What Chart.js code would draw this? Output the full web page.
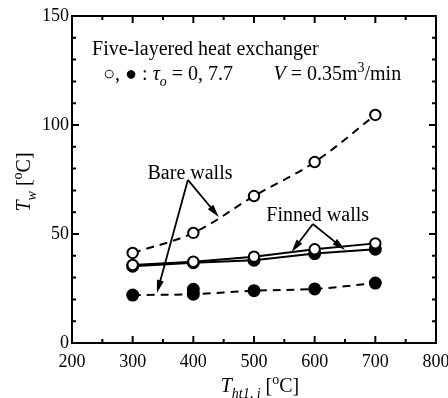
<!DOCTYPE html>
<html>
<head>
<meta charset="utf-8">
<script src="https://cdn.jsdelivr.net/npm/chart.js@4.4.1/dist/chart.umd.min.js"></script>
<style>
html, body { margin: 0; padding: 0; background: #fff; }
</style>
</head>
<body>
<canvas id="heatChart" width="448" height="398"></canvas>
<script>
// tick labels
const xTicks = [200, 300, 400, 500, 600, 700, 800];
const yTicks = [0, 50, 100, 150];

// inlet temperature T_ht1,i [oC]
const inletTemps = [300, 400, 500, 600, 700];

// wall temperature T_w [oC]
const bareOpen = [41.3, 50.5, 67.4, 83.0, 104.6];      // bare walls, tau_o = 0
const bareFilled = [22.0, 22.4, 24.0, 24.8, 27.5];     // bare walls, tau_o = 7.7
const bareFilledExtra = [24.6];                         // second run at 400
const finnedOpen = [35.8, 37.3, 39.6, 43.0, 45.7];     // finned walls, tau_o = 0
const finnedFilled = [35.2, 36.8, 38.0, 41.0, 43.0];   // finned walls, tau_o = 7.7

const FONT = "'Liberation Serif', 'Times New Roman', serif";
const FS = 20;
const TICK_FS = 18;

function pts(values, xs) {
    return values.map((v, i) => ({ x: (xs || inletTemps)[i], y: v }));
}

function style(filled, dashed) {
    return {
        borderColor: "#000",
        borderWidth: 2,
        borderDash: dashed ? [8, 6] : [],
        tension: dashed ? 0.35 : 0,
        pointRadius: filled ? 5.5 : 5.2,
        pointBorderWidth: 2,
        pointBorderColor: "#000",
        pointBackgroundColor: filled ? "#000" : "#fff",
        fill: false
    };
}

// draw a string made of parts: [text, mode] mode = "", "i", "sub", "isub", "sup"
function rich(ctx, x, y, parts, size, align) {
    const measure = p => {
        const small = p[1] === "sub" || p[1] === "isub" || p[1] === "sup";
        const italic = p[1] === "i" || p[1] === "isub";
        ctx.font = (italic ? "italic " : "") + (small ? size * 0.7 : size) + "px " + FONT;
        return ctx.measureText(p[0]).width;
    };
    const total = parts.reduce((s, p) => s + measure(p), 0);
    let cx = align === "center" ? x - total / 2 : x;
    ctx.textAlign = "left";
    ctx.textBaseline = "alphabetic";
    parts.forEach(p => {
        const w = measure(p);
        let dy = 0;
        if (p[1] === "sub" || p[1] === "isub") dy = size * 0.3;
        if (p[1] === "sup") dy = -size * 0.42;
        ctx.fillText(p[0], cx, y + dy);
        cx += w;
    });
}

function arrow(ctx, x0, y0, x1, y1) {
    const a = Math.atan2(y1 - y0, x1 - x0);
    const len = 13, half = 3.5;
    ctx.beginPath();
    ctx.moveTo(x0, y0);
    ctx.lineTo(x1 - Math.cos(a) * len * 0.8, y1 - Math.sin(a) * len * 0.8);
    ctx.stroke();
    ctx.beginPath();
    ctx.moveTo(x1, y1);
    ctx.lineTo(x1 - Math.cos(a) * len - Math.sin(a) * half, y1 - Math.sin(a) * len + Math.cos(a) * half);
    ctx.lineTo(x1 - Math.cos(a) * len + Math.sin(a) * half, y1 - Math.sin(a) * len - Math.cos(a) * half);
    ctx.closePath();
    ctx.fill();
}

const framePlugin = {
    id: "frame",
    afterDraw(chart) {
        const ctx = chart.ctx;
        const { left, right, top, bottom } = chart.chartArea;
        const sx = chart.scales.x, sy = chart.scales.y;
        const X = v => sx.getPixelForValue(v), Y = v => sy.getPixelForValue(v);
        ctx.save();
        ctx.strokeStyle = "#000";
        ctx.fillStyle = "#000";

        // box
        ctx.lineWidth = 2;
        ctx.strokeRect(left, top, right - left, bottom - top);

        // inward ticks on all sides
        ctx.beginPath();
        for (let v = 200; v <= 800; v += 50) {
            const l = v % 100 === 0 ? 7 : 4;
            ctx.moveTo(X(v), bottom); ctx.lineTo(X(v), bottom - l);
            ctx.moveTo(X(v), top); ctx.lineTo(X(v), top + l);
        }
        for (let v = 0; v <= 150; v += 10) {
            const l = v % 50 === 0 ? 7 : 4;
            ctx.moveTo(left, Y(v)); ctx.lineTo(left + l, Y(v));
            ctx.moveTo(right, Y(v)); ctx.lineTo(right - l, Y(v));
        }
        ctx.stroke();

        // tick labels
        ctx.font = TICK_FS + "px " + FONT;
        ctx.textAlign = "center";
        ctx.textBaseline = "alphabetic";
        xTicks.forEach(v => ctx.fillText(String(v), X(v), bottom + 24));
        ctx.textAlign = "right";
        ctx.textBaseline = "middle";
        yTicks.forEach(v => ctx.fillText(String(v), left - 3, Y(v)));

        // axis titles
        rich(ctx, (left + right) / 2 + 6, 392, [["T", "i"], ["ht1, i", "isub"], [" [", ""], ["o", "sup"], ["C]", ""]], FS, "center");
        ctx.save();
        ctx.translate(30, 182);
        ctx.rotate(-Math.PI / 2);
        rich(ctx, 0, 0, [["T", "i"], ["w", "isub"], [" [", ""], ["o", "sup"], ["C]", ""]], FS, "center");
        ctx.restore();

        // header
        rich(ctx, X(233), Y(135.3) + 7, [["Five-layered heat exchanger", ""]], FS, "left");
        rich(ctx, X(251), Y(123.8) + 7, [["○, ● : ", ""], ["τ", "i"], ["o", "isub"], [" = 0, 7.7", ""]], FS, "left");
        rich(ctx, X(532), Y(123.8) + 7, [["V", "i"], [" = 0.35m", ""], ["3", "sup"], ["/min", ""]], FS, "left");

        // annotations
        rich(ctx, X(394.5), Y(78.4) + 7, [["Bare walls", ""]], FS, "center");
        rich(ctx, X(605), Y(59.2) + 7, [["Finned walls", ""]], FS, "center");
        ctx.lineWidth = 1.8;
        arrow(ctx, X(391), Y(74.8), X(442), Y(57.8));
        arrow(ctx, X(391), Y(74.8), X(340), Y(22.9));
        arrow(ctx, X(597), Y(54.6), X(562), Y(41.7));
        arrow(ctx, X(597), Y(54.6), X(650), Y(42.7));

        ctx.restore();
    }
};

new Chart(document.getElementById("heatChart"), {
    type: "line",
    data: {
        datasets: [
            { data: pts(bareOpen), ...style(false, true) },
            { data: pts(finnedOpen), ...style(false, false) },
            { data: pts(finnedFilled), ...style(true, false) },
            { data: pts(bareFilled), ...style(true, true) },
            { data: pts(bareFilledExtra, [400]), ...style(true, true), showLine: false }
        ]
    },
    options: {
        responsive: false,
        animation: false,
        layout: { padding: { left: 72, right: 12, top: 16, bottom: 55 } },
        plugins: {
            legend: { display: false },
            tooltip: { enabled: false }
        },
        scales: {
            x: { type: "linear", min: 200, max: 800, display: false },
            y: { type: "linear", min: 0, max: 150, display: false }
        }
    },
    plugins: [framePlugin]
});
</script>
</body>
</html>
